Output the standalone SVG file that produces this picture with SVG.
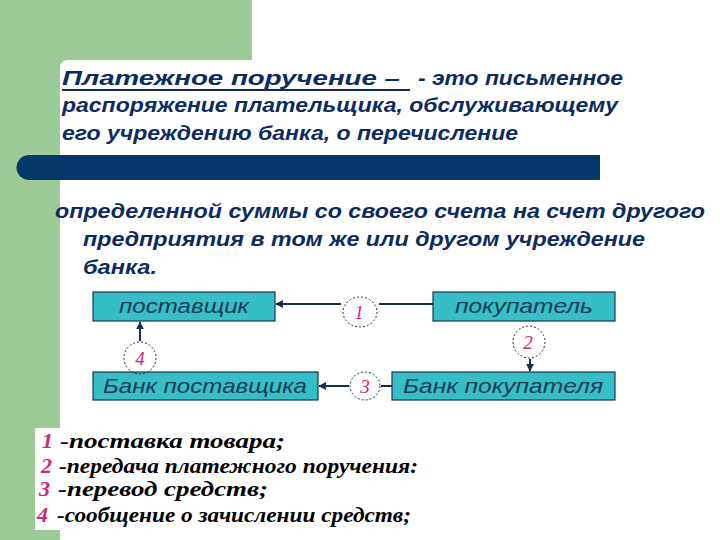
<svg xmlns="http://www.w3.org/2000/svg" width="720" height="540" viewBox="0 0 720 540">
<style>
.t{font-family:"Liberation Sans",Arial,sans-serif;font-weight:bold;font-style:italic;font-size:20px;fill:#0d2b5e}
.box{fill:#35bec6;stroke:#1b3550;stroke-width:1.2}
.bl{font-family:"Liberation Sans",Arial,sans-serif;font-style:italic;font-size:21px;fill:#1d3a58;text-anchor:middle}
.circ{fill:none;stroke:#1b2a40;stroke-width:1;stroke-dasharray:2 2}
.num{font-family:"Liberation Serif","Times New Roman",serif;font-style:italic;font-size:19px;fill:#d0247a;text-anchor:middle}
.conn{stroke:#14304e;stroke-width:2;fill:none}
.lg{font-family:"Liberation Serif","Times New Roman",serif;font-weight:bold;font-style:italic;font-size:20px;fill:#000}
.ln{font-family:"Liberation Serif","Times New Roman",serif;font-weight:bold;font-style:italic;font-size:22px;fill:#d0247a}
</style>
<defs>
<marker id="ah" viewBox="0 0 10 10" refX="9" refY="5" markerWidth="4" markerHeight="4" orient="auto-start-reverse">
<path d="M0 0 L10 5 L0 10 Z" fill="#14304e"/>
</marker>
</defs>
<rect width="720" height="540" fill="#ffffff"/>
<path d="M0 0 H252 V60 H68 Q60 60 60 68 V540 H0 Z" fill="#9ccb98"/>
<path d="M29 155 H600 V180 H29 A12.5 12.5 0 0 1 29 155 Z" fill="#05386a"/>

<g id="definition">
<text class="t" x="62" y="85" font-size="21" textLength="338" lengthAdjust="spacingAndGlyphs">Платежное поручение –</text>
<line x1="62" y1="90" x2="410" y2="90" stroke="#0d2b5e" stroke-width="1.8"/>
<text class="t" x="418" y="85" textLength="205" lengthAdjust="spacingAndGlyphs">- это письменное</text>
<text class="t" x="62" y="112" textLength="556" lengthAdjust="spacingAndGlyphs">распоряжение плательщика, обслуживающему</text>
<text class="t" x="62" y="140" textLength="456" lengthAdjust="spacingAndGlyphs">его учреждению банка, о перечисление</text>
<text class="t" x="55" y="218" textLength="650" lengthAdjust="spacingAndGlyphs">определенной суммы со своего счета на счет другого</text>
<text class="t" x="83" y="246" textLength="562" lengthAdjust="spacingAndGlyphs">предприятия в том же или другом учреждение</text>
<text class="t" x="83" y="274" textLength="74" lengthAdjust="spacingAndGlyphs">банка.</text>
</g>

<g id="connectors">
<line class="conn" x1="341" y1="304" x2="276" y2="304" marker-end="url(#ah)"/>
<line class="conn" x1="379" y1="304" x2="433" y2="304"/>
<line class="conn" x1="530" y1="359" x2="530" y2="371" marker-end="url(#ah)"/>
<line class="conn" x1="349" y1="386" x2="319" y2="386" marker-end="url(#ah)"/>
<line class="conn" x1="381" y1="386" x2="392" y2="386"/>
<line class="conn" x1="140" y1="341" x2="140" y2="322" marker-end="url(#ah)"/>
<line class="conn" x1="140" y1="375" x2="140" y2="372"/>
</g>

<g id="supplier">
<rect class="box" x="93" y="292" width="182" height="29"/>
<text class="bl" x="184" y="313" textLength="130" lengthAdjust="spacingAndGlyphs">поставщик</text>
</g>
<g id="buyer">
<rect class="box" x="433" y="292" width="182" height="29"/>
<text class="bl" x="524" y="313" textLength="138" lengthAdjust="spacingAndGlyphs">покупатель</text>
</g>
<g id="supplier-bank">
<rect class="box" x="93" y="372" width="225" height="28"/>
<text class="bl" x="205" y="393" textLength="204" lengthAdjust="spacingAndGlyphs">Банк поставщика</text>
</g>
<g id="buyer-bank">
<rect class="box" x="392" y="372" width="223" height="28"/>
<text class="bl" x="503" y="393" textLength="200" lengthAdjust="spacingAndGlyphs">Банк покупателя</text>
</g>

<g id="step1">
<ellipse class="circ" cx="360" cy="312" rx="17" ry="15"/>
<text class="num" x="359" y="319">1</text>
</g>
<g id="step2">
<ellipse class="circ" cx="529" cy="342" rx="16" ry="16"/>
<text class="num" x="528" y="349">2</text>
</g>
<g id="step3">
<ellipse class="circ" cx="365" cy="386" rx="15" ry="14"/>
<text class="num" x="365" y="393">3</text>
</g>
<g id="step4">
<ellipse class="circ" cx="140" cy="358" rx="16" ry="16"/>
<text class="num" x="140" y="365">4</text>
</g>

<g id="legend">
<rect x="35" y="428" width="26" height="102" fill="#ffffff"/>
<text class="ln" x="42" y="448">1</text>
<text class="lg" x="60" y="448" textLength="225" lengthAdjust="spacingAndGlyphs">-поставка товара;</text>
<text class="ln" x="41" y="473">2</text>
<text class="lg" x="59" y="473" font-size="21" textLength="359" lengthAdjust="spacingAndGlyphs">-передача платежного поручения:</text>
<text class="ln" x="39" y="496">3</text>
<text class="lg" x="58" y="496" textLength="210" lengthAdjust="spacingAndGlyphs">-перевод средств;</text>
<text class="ln" x="37" y="522">4</text>
<text class="lg" x="57" y="522" font-size="21" textLength="354" lengthAdjust="spacingAndGlyphs">-сообщение о зачислении средств;</text>
</g>
</svg>
